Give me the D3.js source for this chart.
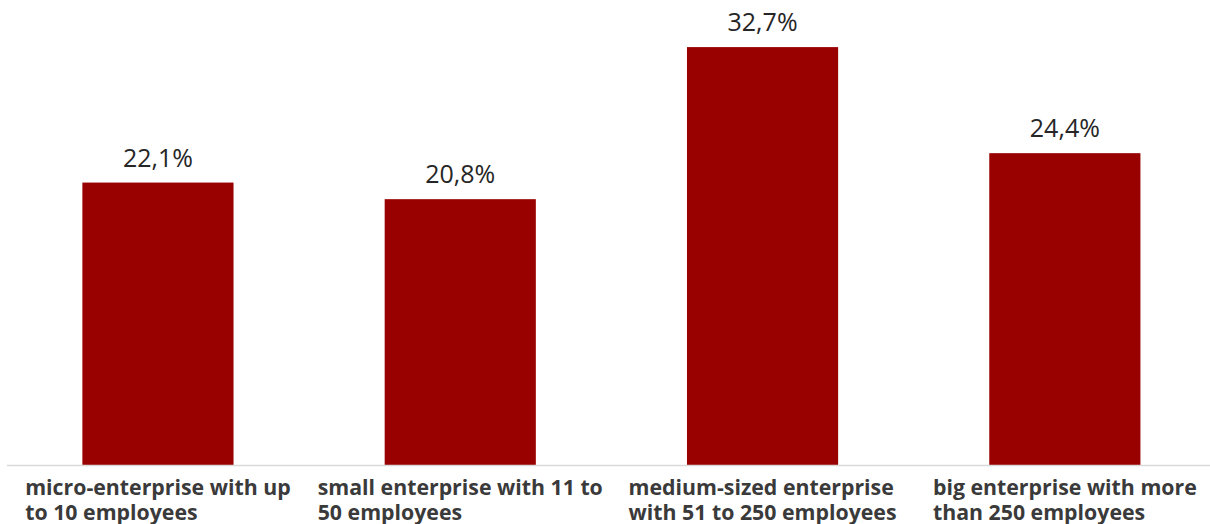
<!DOCTYPE html>
<html>
<head>
<meta charset="utf-8">
<script src="https://cdn.jsdelivr.net/npm/d3@7"></script>
<style>
  html, body { margin: 0; padding: 0; background: #ffffff; }
  svg { display: block; }
</style>
</head>
<body>
<svg id="chart" width="1210" height="524"></svg>
<script>
// Share of enterprises by size class
const categories = [
  ["micro-enterprise with up", "to 10 employees"],
  ["small enterprise with 11 to", "50 employees"],
  ["medium-sized enterprise", "with 51 to 250 employees"],
  ["big enterprise with more", "than 250 employees"]
];
const values = [22.1, 20.8, 32.7, 24.4];
const valueLabels = ["22,1%", "20,8%", "32,7%", "24,4%"];

const svg = d3.select("#chart");
const baseY = 465;

const x = d3.scaleBand()
  .domain(d3.range(categories.length))
  .range([6.8, 1216])
  .paddingInner(0.5)
  .paddingOuter(0.25);

const y = d3.scaleLinear()
  .domain([0, 35])
  .range([baseY, 17.7]);

// bars
svg.append("g")
  .selectAll("rect")
  .data(values)
  .join("rect")
  .attr("x", (d, i) => x(i))
  .attr("y", d => y(d))
  .attr("width", x.bandwidth())
  .attr("height", d => y(0) - y(d))
  .attr("fill", "#990000");

// category axis line
svg.append("line")
  .attr("x1", 7).attr("x2", 1210)
  .attr("y1", baseY + 0.5).attr("y2", baseY + 0.5)
  .attr("stroke", "#d9d9d9")
  .attr("stroke-width", 1.5);

// value labels
svg.append("g")
  .selectAll("text")
  .data(values)
  .join("text")
  .attr("x", (d, i) => x(i) + x.bandwidth() / 2)
  .attr("y", d => y(d) - 16)
  .attr("text-anchor", "middle")
  .attr("font-family", "'Open Sans', sans-serif")
  .attr("font-size", 25)
  .attr("fill", "#262626")
  .text((d, i) => valueLabels[i]);

// category labels: block centred under the bar, lines left-aligned
const labelG = svg.append("g");
categories.forEach((lines, i) => {
  const cx = x(i) + x.bandwidth() / 2;
  const t = labelG.append("text")
    .attr("font-family", "'Open Sans', sans-serif")
    .attr("font-weight", "bold")
    .attr("font-size", 21.3)
    .attr("fill", "#3a3a3a");
  lines.forEach((ln, j) => {
    t.append("tspan").attr("y", 495 + j * 25).text(ln);
  });
  const w = d3.max(t.selectAll("tspan").nodes(), n => n.getComputedTextLength());
  t.selectAll("tspan").attr("x", cx - w / 2);
});
</script>
</body>
</html>
